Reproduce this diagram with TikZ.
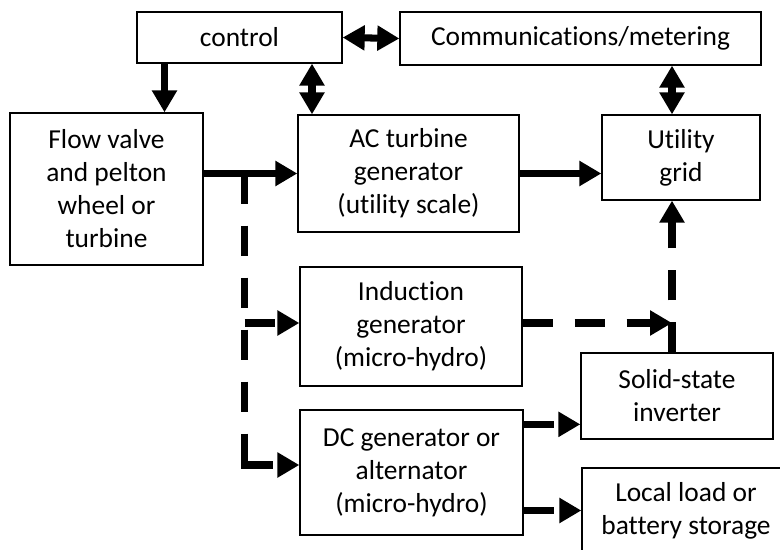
\documentclass[tikz,border=0pt]{standalone}
\usepackage{fontspec}
\setmainfont{Carlito}[Ligatures=NoCommon]
\usetikzlibrary{arrows.meta, calc}

\begin{document}
\begin{tikzpicture}[x=0.025cm, y=-0.025cm, >={Triangle[length=0.55cm, width=0.6cm]}]
        \tikzstyle{box}=[draw, line width=0.9pt, align=center, inner sep=0pt, font=\fontsize{19.5}{23.5}\selectfont]
        \tikzstyle{feed}=[line width=5pt, ->]
        \tikzstyle{link}=[line width=5pt, <->]
        \tikzstyle{aux}=[line width=5pt, ->, dash pattern=on 0.75cm off 0.55cm]

        \useasboundingbox (0,0) rectangle (780,550);
        \clip (0,0) rectangle (780,550);

        % Top row
        \node[box, minimum width=5.125cm, minimum height=1.275cm] (control) at (239.5,37.5) {control};
        \node[box, minimum width=9.025cm, minimum height=1.325cm] (comm) at (580.5,38.5) {Communications/metering};

        % Main line
        \node[box, minimum width=4.825cm, minimum height=3.8cm] (flow) at (106.5,189) {Flow valve\\and pelton\\wheel or\\turbine};
        \node[box, minimum width=5.525cm, minimum height=2.925cm] (ac) at (408.5,173.5) {AC turbine\\generator\\(utility scale)};
        \node[box, minimum width=3.95cm, minimum height=2.125cm] (grid) at (681,157.5) {Utility\\grid};

        % Micro-hydro options
        \node[box, minimum width=5.55cm, minimum height=2.975cm] (induction) at (411,326.5) {Induction\\generator\\(micro-hydro)};
        \node[box, minimum width=5.575cm, minimum height=3.125cm] (dc) at (411.5,472.5) {DC generator or\\alternator\\(micro-hydro)};
        \node[box, minimum width=4.8cm, minimum height=2.15cm] (inverter) at (677,396) {Solid-state\\inverter};
        \node[box, minimum width=5.2cm, minimum height=2.125cm] (load) at (686,510.5) {Local load or\\battery storage};

        % Tap points
        \coordinate (ctrlL) at ($(control.south)+(-75,0)$);
        \coordinate (ctrlR) at ($(control.south)+(72.5,0)$);
        \coordinate (trunk) at ($(flow.east |- ac.west)+(41,0)$);
        \coordinate (joint) at (672,323);
        \coordinate (dcOut) at ($(dc.north east)+(0,15)$);

        % Control and metering
        \draw[feed] (ctrlL) -- (ctrlL |- flow.north);
        \draw[link] (ctrlR) -- (ctrlR |- ac.north);
        \draw[link] (control.east) -- (comm.west);
        \draw[link] (comm.south -| joint) -- (grid.north -| joint);

        % Power flow
        \draw[feed] (flow.east |- ac.west) -- (ac.west);
        \draw[feed] (ac.east) -- (grid.west |- ac.east);

        % Dashed branches
        \draw[aux, dash pattern=on 0.75cm off 0.55cm on 0.75cm off 0.55cm on 0.75cm off 0.55cm on 0.75cm off 0.55cm on 0.75cm off 0.55cm on 1.5cm off 0.55cm]
            (trunk) |- ($(dc.west)+(0,-7.5)$);
        \draw[aux] (trunk |- joint) -- (induction.west |- joint);
        \draw[aux] (induction.east |- joint) -- (joint);
        \draw[aux] (inverter.north -| joint) -- (grid.south -| joint);
        \draw[aux] (dcOut) -- (dcOut -| inverter.west);
        \draw[aux] (dc.east |- load.west) -- (load.west);
    \end{tikzpicture}
\end{document}
